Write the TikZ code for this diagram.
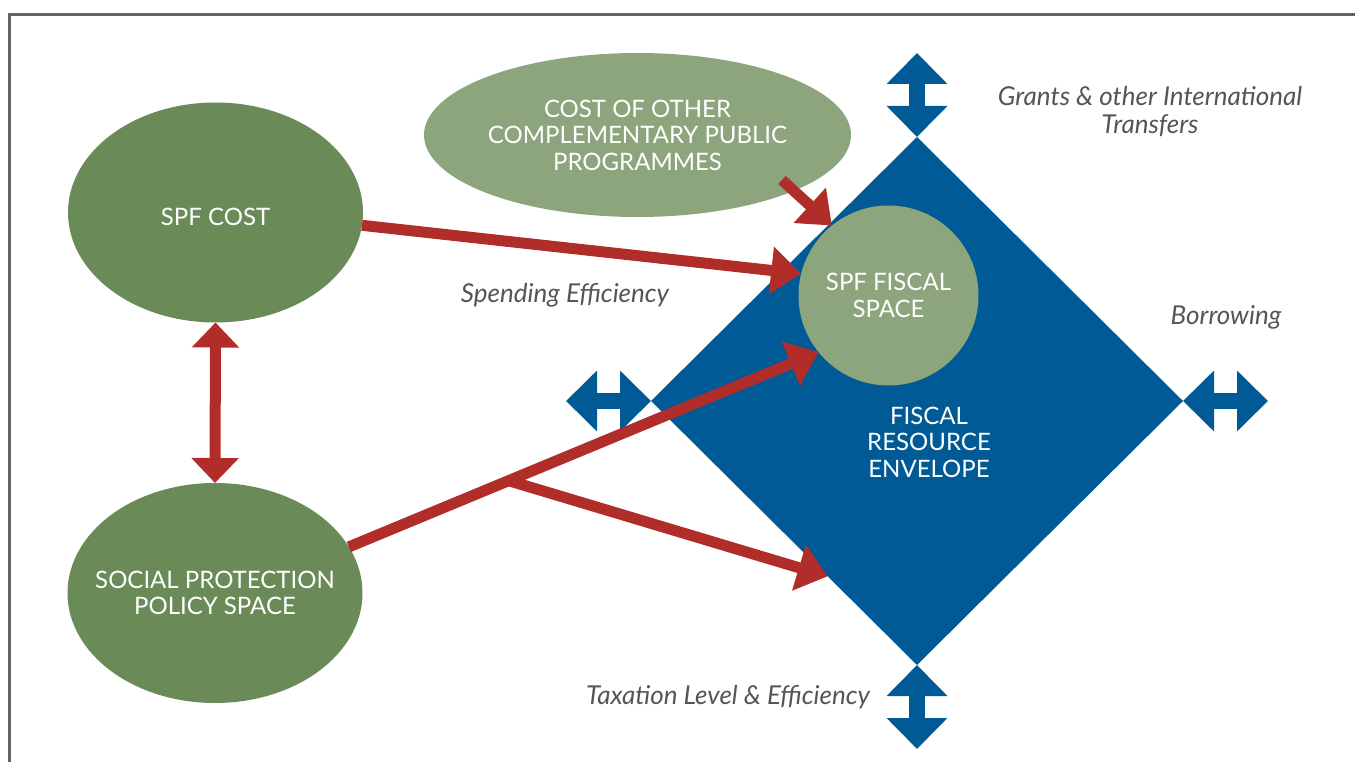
\documentclass[tikz,border=0pt]{standalone}
\usepackage{fontspec}
\setmainfont{Lato}
\usetikzlibrary{shapes.geometric,arrows.meta}
\definecolor{spfgreen}{RGB}{106,139,88}
\definecolor{palegreen}{RGB}{141,165,124}
\definecolor{fiscblue}{RGB}{0,90,149}
\definecolor{arrred}{RGB}{177,45,42}
\definecolor{lblgray}{RGB}{85,85,85}
\definecolor{framegray}{RGB}{100,100,100}

\begin{document}
\begin{tikzpicture}[x=1pt,y=-1pt,
	caps/.style={text=white,align=center,font=\fontsize{24}{26.5}\selectfont},
	spfell/.style={ellipse,fill=spfgreen,inner sep=0,outer sep=0,minimum width=295pt,minimum height=220pt},
	redarr/.style={draw=arrred,line width=11pt,-{Triangle[width=46pt,length=30pt]}},
	bluearr/.style={draw=fiscblue,line width=16pt,{Triangle[width=59pt,length=31pt]}-{Triangle[width=59pt,length=31pt]}},
	lbl/.style={text=lblgray,align=center,font=\fontsize{26}{28}\selectfont\itshape}]
	\useasboundingbox (0,0) rectangle (1355,762);
	\draw[framegray,line width=3pt] (9.5,762) -- (9.5,15) -- (1355,15);
	% fiscal envelope
	\node[diamond,fill=fiscblue,inner sep=0,outer sep=0,minimum width=532pt,minimum height=528pt] (fre) at (917,401) {};
	\node[caps] (fretext) at (929,442) {FISCAL\\RESOURCE\\ENVELOPE};
	\coordinate (gtop) at (917,53);
	\coordinate (gbot) at (917,749);
	\coordinate (gleft) at (566,401);
	\coordinate (gright) at (1268,401);
	\draw[bluearr] (gtop) -- (fre.north);
	\draw[bluearr] (fre.south) -- (gbot);
	\draw[bluearr] (gleft) -- (fre.west);
	\draw[bluearr] (fre.east) -- (gright);
	% ellipses
	\node[spfell,label={[caps,yshift=-4pt]center:SPF COST}] (spfcost) at (215.5,212.5) {};
	\node[spfell,label={[caps]center:{SOCIAL PROTECTION\\POLICY SPACE}}] (sppspace) at (215,593) {};
	\node[ellipse,fill=palegreen,inner sep=0,outer sep=0,minimum width=427pt,minimum height=164pt,label={[caps]center:{COST OF OTHER\\COMPLEMENTARY PUBLIC\\PROGRAMMES}}] (copp) at (637.5,135) {};
	\node[circle,fill=palegreen,inner sep=0,outer sep=0,minimum size=180pt,caps] (spffs) at (888.5,295.5) {SPF FISCAL\\SPACE};
	% red arrows
	\coordinate (cpin) at (782,180);
	\draw[redarr] (spfcost.-5) -- (spffs.166);
	\draw[redarr] (cpin) -- (spffs.129);
	\draw[redarr] (sppspace.19) -- coordinate[pos=0.34] (fork) (spffs.219);
	\draw[redarr] (fork) -- (fre.243);
	\draw[draw=arrred,line width=11pt,{Triangle[width=46pt,length=25pt]}-{Triangle[width=46pt,length=25pt]}] (spfcost.south) -- (sppspace.north);
	% labels
	\node[lbl] (grants) at (1150,112) {Grants \& other International\\Transfers};
	\node[lbl] (spend) at (565,295) {Spending Efficiency};
	\node[lbl] (borrow) at (1226,317) {Borrowing};
	\node[lbl] (tax) at (728,697) {Taxation Level \& Efficiency};
\end{tikzpicture}
\end{document}
